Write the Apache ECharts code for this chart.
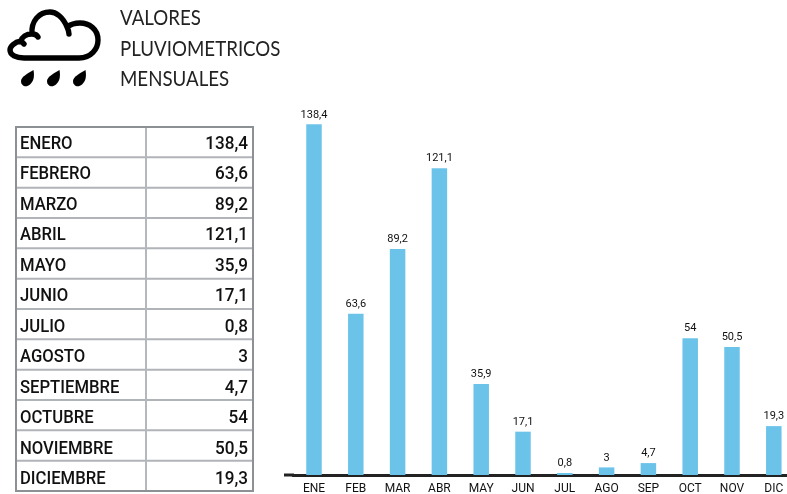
<!DOCTYPE html>
<html><head><meta charset="utf-8">
<style>html,body{margin:0;padding:0;background:#fff}#c{width:787px;height:494px}</style>
<script src="https://cdn.jsdelivr.net/npm/echarts@6/dist/echarts.min.js"></script>
</head><body><div id="c"></div>
<script>
const shortMonths = ['ENE','FEB','MAR','ABR','MAY','JUN','JUL','AGO','SEP','OCT','NOV','DIC'];
const longMonths = ['ENERO','FEBRERO','MARZO','ABRIL','MAYO','JUNIO','JULIO','AGOSTO','SEPTIEMBRE','OCTUBRE','NOVIEMBRE','DICIEMBRE'];
const rainfall = [138.4,63.6,89.2,121.1,35.9,17.1,0.8,3,4.7,54,50.5,19.3];
const titleLines = ['VALORES','PLUVIOMETRICOS','MENSUALES'];

const FONT = 'Roboto, sans-serif';
const fmt = v => String(v).replace('.', ',');
const graphic = [];

echarts.graphic.registerShape('cloudIcon', echarts.graphic.extendShape({
  buildPath(c) {
    c.moveTo(24,58); c.lineTo(79,58);
    c.bezierCurveTo(91,58,98,49,98,40);
    c.bezierCurveTo(98,29,89,23,80,23);
    c.bezierCurveTo(75,23,71,24,67,27);
    c.bezierCurveTo(68,29,69,31,69,34);
    c.moveTo(67,27);
    c.bezierCurveTo(63,17,56,12,50,12);
    c.bezierCurveTo(39,12,31,21,32,34);
    c.bezierCurveTo(35,34,37,35,38,37);
    c.moveTo(32,34);
    c.bezierCurveTo(26,34,22,37,21,41);
    c.bezierCurveTo(14,42,10,47,10,50);
    c.bezierCurveTo(10,55,16,58,24,58);
    c.moveTo(21,41);
    c.bezierCurveTo(22,42,23,43,24,44);
  }
}));
echarts.graphic.registerShape('dropIcon', echarts.graphic.extendShape({
  shape:{x:0,y:0},
  buildPath(c, s) {
    const x=s.x, y=s.y;
    c.moveTo(x+6.5,y-1);
    c.bezierCurveTo(x+7.5,y+5,x+7,y+10,x+3,y+13.5);
    c.bezierCurveTo(x-1,y+17,x-6,y+15,x-6,y+10);
    c.bezierCurveTo(x-6,y+6,x+1,y+2,x+6.5,y-1);
    c.closePath();
  }
}));

// Header
titleLines.forEach((t, i) => graphic.push({type:'text', x:120, y:7 + i*30.5, scaleX:0.85,
  style:{text:t, font:'400 22px Lato, sans-serif', fill:'#222'}}));

// Icon
graphic.push({type:'cloudIcon', style:{fill:null, stroke:'#000', lineWidth:5.4, lineJoin:'round', lineCap:'round'}});
[27,53,79].forEach(x => graphic.push({type:'dropIcon', shape:{x,y:71}, style:{fill:'#000'}}));

// Table
const tL=16, tR=253, tD=146, tT=127, tB=491, rowH=(tB-tT)/12;
for (let i=1;i<12;i++) graphic.push({type:'line', shape:{x1:tL,y1:tT+i*rowH,x2:tR,y2:tT+i*rowH}, style:{stroke:'#b0b3b7',lineWidth:2}});
graphic.push({type:'line', shape:{x1:tD,y1:tT,x2:tD,y2:tB}, style:{stroke:'#b4b7bb',lineWidth:2}});
graphic.push({type:'rect', shape:{x:tL,y:tT,width:tR-tL,height:tB-tT}, style:{fill:null,stroke:'#8d9094',lineWidth:2}});
longMonths.forEach((m,i) => {
  const y = 144 + i*30.5;
  graphic.push({type:'text', x:20, y, scaleX:0.9, style:{text:m, font:'500 18.5px '+FONT, fill:'#111', verticalAlign:'middle'}});
  graphic.push({type:'text', x:248, y, scaleX:0.9, style:{text:fmt(rainfall[i]), font:'500 19px '+FONT, fill:'#111', align:'right', verticalAlign:'middle'}});
});
// left stub of the baseline
graphic.push({type:'line', shape:{x1:284,y1:475,x2:294,y2:475}, style:{stroke:'#222',lineWidth:3}});

const chart = echarts.init(document.getElementById('c'), null, {renderer:'canvas'});
chart.setOption({
  animation:false,
  grid:{left:293.1, width:501.6, top:24, height:451, outerBoundsMode:'none'},
  xAxis:{type:'category', data:shortMonths,
    axisLine:{lineStyle:{color:'#222',width:3}}, axisTick:{show:false},
    axisLabel:{color:'#111', fontFamily:FONT, fontSize:12, margin:8, interval:0}},
  yAxis:{type:'value', min:0, max:178, show:false, splitLine:{show:false}},
  series:[{type:'bar', data:rainfall, barWidth:15.5, itemStyle:{color:'#6cc3ea'},
    label:{show:true, position:'top', distance:4, color:'#111', fontFamily:FONT, fontSize:11,
      formatter:p => fmt(p.value)}}],
  graphic
});
</script></body></html>
